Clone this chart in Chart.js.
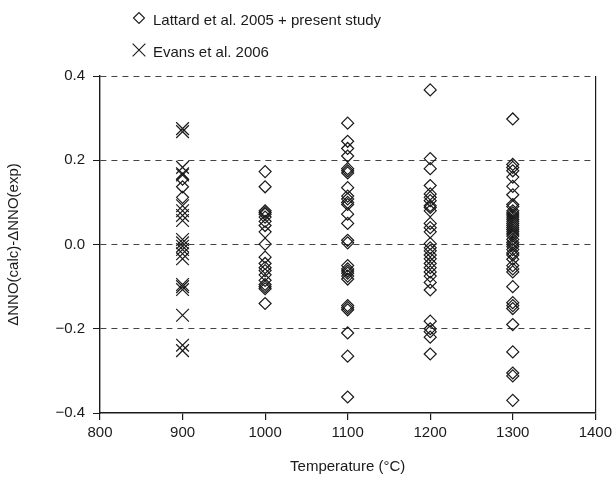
<!DOCTYPE html>
<html>
<head>
<meta charset="utf-8">
<script src="https://cdn.jsdelivr.net/npm/chart.js@4.4.1/dist/chart.umd.min.js"></script>
<style>
  html, body { margin: 0; padding: 0; background: #fff; }
  #wrap { width: 616px; height: 480px; }
</style>
</head>
<body>
<div id="wrap"><canvas id="chart"></canvas></div>
<script>
// ΔNNO(calc) - ΔNNO(exp) residuals, grouped by run temperature
const temperatures = [900, 1000, 1100, 1200, 1300];

const lattard900 = [0.155, 0.137, 0.112];
const lattard1000 = [0.173, 0.137, 0.080, 0.076, 0.072, 0.065, 0.055, 0.045, 0.030, 0.001,
  -0.030, -0.045, -0.055, -0.062, -0.072, -0.085, -0.095, -0.100, -0.105, -0.140];
const lattard1100 = [0.288, 0.245, 0.228, 0.210, 0.180, 0.175, 0.170, 0.135, 0.115, 0.108,
  0.100, 0.095, 0.072, 0.050, 0.010, 0.004, -0.050, -0.058, -0.063, -0.068, -0.075, -0.082,
  -0.145, -0.150, -0.155, -0.210, -0.265, -0.362];
const lattard1200 = [0.367, 0.204, 0.180, 0.140, 0.120, 0.112, 0.104, 0.092, 0.088, 0.080,
  0.050, 0.040, 0.030, 0.002, -0.008, -0.015, -0.025, -0.034, -0.045, -0.055, -0.065, -0.075,
  -0.090, -0.108, -0.182, -0.200, -0.207, -0.220, -0.260];
const lattard1300 = [0.298, 0.190, 0.183, 0.175, 0.160, 0.138, 0.118, 0.095, 0.090, 0.080,
  0.075, 0.070, 0.065, 0.060, 0.055, 0.050, 0.045, 0.040, 0.035, 0.030, 0.025, 0.020, 0.012,
  0.005, 0.000, -0.005, -0.012, -0.020, -0.025, -0.035, -0.050, -0.058, -0.065, -0.100,
  -0.138, -0.145, -0.152, -0.190, -0.255, -0.305, -0.312, -0.370];

const evans900 = [0.275, 0.268, 0.183, 0.168, 0.165, 0.092, 0.080, 0.069, 0.057, 0.012,
  0.004, -0.004, -0.012, -0.022, -0.034, -0.095, -0.100, -0.107, -0.168, -0.239, -0.252];

const seriesLabels = ["Lattard et al. 2005 + present study", "Evans et al. 2006"];
const xTicks = [800, 900, 1000, 1100, 1200, 1300, 1400];
const yTicks = [-0.4, -0.2, 0.0, 0.2, 0.4];

const lattardGroups = [lattard900, lattard1000, lattard1100, lattard1200, lattard1300];
const lattardPoints = [];
lattardGroups.forEach((vals, i) => {
  vals.forEach((v) => lattardPoints.push({ x: temperatures[i], y: v }));
});
const evansPoints = evans900.map((v) => ({ x: 900, y: v }));

const INK = "#1a1a1a";
const FONT = "'Liberation Sans', Arial, sans-serif";
const FS = 15;

function fmtTick(v) {
  if (Math.abs(v) < 1e-9) return "0.0";
  return v < 0 ? "\u2212" + Math.abs(v).toFixed(1) : v.toFixed(1);
}

// legend stacked above the plot, one entry per line
const stackedLegend = {
  id: "stackedLegend",
  afterDraw(chart) {
    const ctx = chart.ctx;
    const entries = [
      { y: 18, ds: chart.data.datasets[0], radius: 5.5 },
      { y: 50, ds: chart.data.datasets[1], radius: 9 },
    ];
    ctx.save();
    entries.forEach((e) => {
      ctx.strokeStyle = INK;
      ctx.fillStyle = "rgba(0,0,0,0)";
      ctx.lineWidth = 1.1;
      Chart.helpers.drawPoint(ctx, { pointStyle: e.ds.pointStyle, radius: e.radius, rotation: 0, borderWidth: 1.1 }, 139, e.y);
      ctx.fillStyle = INK;
      ctx.font = FS + "px " + FONT;
      ctx.textBaseline = "middle";
      ctx.textAlign = "left";
      ctx.fillText(e.ds.label, 153, e.y + 3);
    });
    ctx.restore();
  },
};

new Chart(document.getElementById("chart"), {
  type: "scatter",
  data: {
    datasets: [
      {
        label: seriesLabels[0],
        data: lattardPoints,
        pointStyle: "rectRot",
        pointRadius: 6,
        borderColor: INK,
        backgroundColor: "rgba(0,0,0,0)",
        borderWidth: 1.2,
      },
      {
        label: seriesLabels[1],
        data: evansPoints,
        pointStyle: "crossRot",
        pointRadius: 9,
        borderColor: INK,
        backgroundColor: "rgba(0,0,0,0)",
        borderWidth: 1.2,
      },
    ],
  },
  options: {
    responsive: true,
    maintainAspectRatio: false,
    animation: false,
    layout: {
      padding: { top: 76, right: 20, left: 0, bottom: 0 },
    },
    plugins: {
      legend: { display: false },
      tooltip: { enabled: false },
    },
    scales: {
      x: {
        type: "linear",
        min: 800,
        max: 1400,
        afterBuildTicks: (scale) => {
          scale.ticks = xTicks.map((v) => ({ value: v }));
        },
        afterFit: (scale) => {
          scale.height = 67;
        },
        ticks: {
          color: INK,
          font: { family: FONT, size: FS },
          padding: 4,
          maxRotation: 0,
          callback: (v) => String(v),
        },
        grid: {
          color: (ctx) => (ctx.tick && ctx.tick.value === 1400 ? INK : "rgba(0,0,0,0)"),
          tickColor: INK,
          tickLength: 7,
          lineWidth: 1.2,
        },
        border: { color: INK, width: 1.4 },
        title: {
          display: true,
          text: "Temperature (\u00B0C)",
          color: INK,
          font: { family: FONT, size: FS },
          padding: { top: 0, bottom: 4 },
        },
      },
      y: {
        type: "linear",
        min: -0.4,
        max: 0.4,
        afterBuildTicks: (scale) => {
          scale.ticks = yTicks.map((v) => ({ value: v }));
        },
        afterFit: (scale) => {
          scale.width = 100;
        },
        ticks: {
          color: INK,
          font: { family: FONT, size: FS },
          padding: 8,
          callback: (v) => fmtTick(v),
        },
        grid: {
          color: (ctx) => (ctx.tick && ctx.tick.value <= -0.39 ? "rgba(0,0,0,0)" : "#444"),
          tickColor: INK,
          tickLength: 7,
        },
        border: { color: INK, width: 1.4, dash: [6, 5] },
        title: {
          display: true,
          text: "\u0394NNO(calc)-\u0394NNO(exp)",
          color: INK,
          font: { family: FONT, size: FS },
          padding: { top: 5, bottom: 0 },
        },
      },
    },
  },
  plugins: [stackedLegend],
});
</script>
</body>
</html>
